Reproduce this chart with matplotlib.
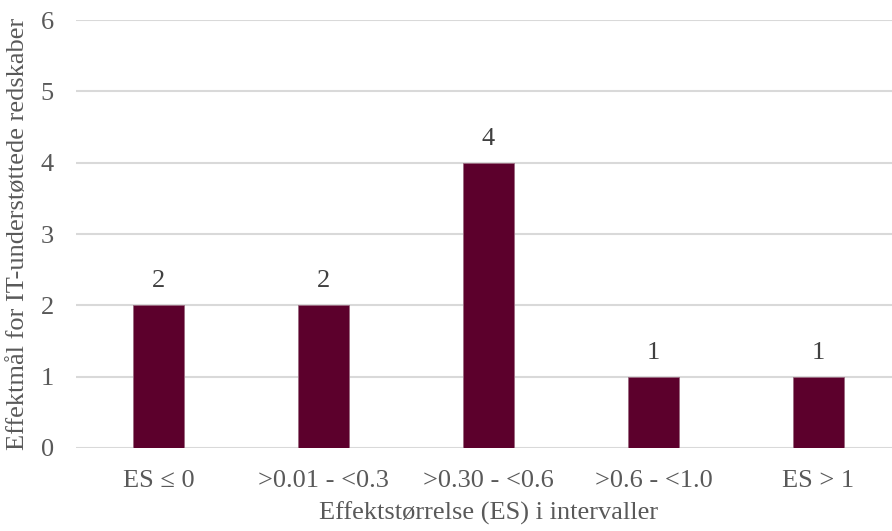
import matplotlib.pyplot as plt
import numpy as np

# Data
categories = ['ES \u2264 0', '>0.01 - <0.3', '>0.30 - <0.6', '>0.6 - <1.0', 'ES > 1']
counts = [2, 2, 4, 1, 1]

plt.rcParams['font.family'] = ['Liberation Serif', 'DejaVu Serif']
text_color = '#595959'
bar_color = '#5C002C'
fs = 19

fig = plt.figure(figsize=(8.92, 5.31), dpi=100)
ax = fig.add_axes([76 / 892, 1 - 448 / 531, 825 / 892, 428 / 531])

x = np.arange(len(categories))
bars = ax.bar(x, counts, width=0.315, color=bar_color, edgecolor='#9A6A80',
              linewidth=0.6, zorder=3)

for xi, v in zip(x, counts):
    ax.annotate(str(v), (xi, v), xytext=(0, 13), textcoords='offset points',
                ha='center', va='baseline', fontsize=fs, color='#404040')

ax.set_xlim(-0.5, len(categories) - 0.5)
ax.set_ylim(0, 6)
ax.set_yticks(range(0, 7))
ax.set_xticks(x)
ax.set_xticklabels(categories)
ax.yaxis.grid(True, color='#D9D9D9', linewidth=1.5, zorder=0)
ax.set_axisbelow(True)

for s in ax.spines.values():
    s.set_visible(False)
ax.tick_params(axis='both', length=0, labelsize=fs, labelcolor=text_color)
ax.tick_params(axis='y', pad=16)
ax.tick_params(axis='x', pad=16)

ax.set_xlabel('Effektst\u00f8rrelse (ES) i intervaller', fontsize=fs,
              color=text_color, labelpad=7)
ax.set_ylabel('Effektm\u00e5l for IT-underst\u00f8ttede redskaber', fontsize=fs,
              color=text_color, labelpad=8)

fig.savefig('out.png', dpi=100)
